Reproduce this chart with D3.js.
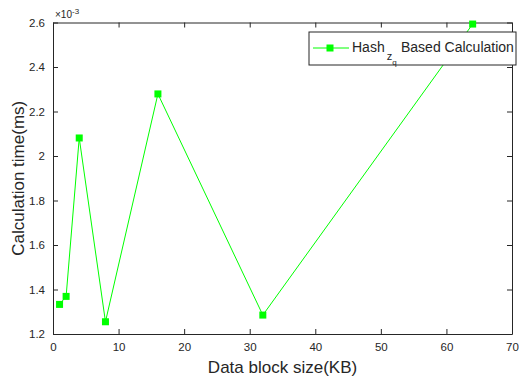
<!DOCTYPE html>
<html>
<head>
<meta charset="utf-8">
<script src="https://cdn.jsdelivr.net/npm/d3@7"></script>
<style>
  body { margin: 0; background: #fff; }
  text { font-family: "Liberation Sans", Arial, sans-serif; fill: #262626; }
</style>
</head>
<body>
<div id="chart"></div>
<script>
// data block size (KB) and calculation time (x1e-3 ms)
var blockSizes = [1, 2, 4, 8, 16, 32, 64];
var calcTimes = [1.333, 1.369, 2.081, 1.255, 2.279, 1.285, 2.593];
var xTicks = [0, 10, 20, 30, 40, 50, 60, 70];
var yTicks = [1.2, 1.4, 1.6, 1.8, 2, 2.2, 2.4, 2.6];

var W = 519, H = 378;
var margin = {top: 22.5, right: 7, bottom: 44, left: 53};
var width = W - margin.left - margin.right,
    height = H - margin.top - margin.bottom;

var svg = d3.select("#chart").append("svg")
  .attr("width", W)
  .attr("height", H);

var g = svg.append("g")
  .attr("transform", "translate(" + margin.left + "," + margin.top + ")");

var x = d3.scaleLinear().domain([0, 70]).range([0, width]);
var y = d3.scaleLinear().domain([1.2, 2.6]).range([height, 0]);

// axes - ticks point inward, box on all sides
var xAxis = g.append("g")
  .attr("transform", "translate(0," + height + ")")
  .call(d3.axisBottom(x).tickValues(xTicks).tickSizeInner(-5).tickSizeOuter(0).tickPadding(9));
var yAxis = g.append("g")
  .call(d3.axisLeft(y).tickValues(yTicks).tickFormat(d3.format("")).tickSizeInner(-5).tickSizeOuter(0).tickPadding(8));
var xTop = g.append("g")
  .call(d3.axisTop(x).tickValues(xTicks).tickSizeInner(-5).tickSizeOuter(0).tickFormat(""));
var yRight = g.append("g")
  .attr("transform", "translate(" + width + ",0)")
  .call(d3.axisRight(y).tickValues(yTicks).tickSizeInner(-5).tickSizeOuter(0).tickFormat(""));

[xAxis, yAxis, xTop, yRight].forEach(function(a) {
  a.select(".domain").attr("stroke", "#262626").attr("stroke-width", 1);
  a.selectAll(".tick line").attr("stroke", "#262626");
  a.selectAll("text").attr("font-size", "11.5px").attr("fill", "#262626");
});

// exponent label
var expo = g.append("text")
  .attr("x", 2)
  .attr("y", -5)
  .attr("font-size", "10px");
expo.append("tspan").text("\u00d710");
expo.append("tspan").attr("dy", -4).attr("font-size", "8px").text("-3");

// line + markers
var line = d3.line()
  .x(function(d, i) { return x(blockSizes[i]); })
  .y(function(d) { return y(d); });

g.append("path")
  .datum(calcTimes)
  .attr("fill", "none")
  .attr("stroke", "#00ff00")
  .attr("stroke-width", 1)
  .attr("d", line);

var ms = 7;
g.selectAll(".marker")
  .data(calcTimes)
  .enter().append("rect")
    .attr("class", "marker")
    .attr("x", function(d, i) { return x(blockSizes[i]) - ms / 2; })
    .attr("y", function(d) { return y(d) - ms / 2; })
    .attr("width", ms)
    .attr("height", ms)
    .attr("fill", "#00ff00");

// axis labels
svg.append("text")
  .attr("x", margin.left + width / 2)
  .attr("y", 373)
  .attr("text-anchor", "middle")
  .attr("font-size", "17px")
  .text("Data block size(KB)");

svg.append("text")
  .attr("transform", "translate(24," + (margin.top + height / 2) + ") rotate(-90)")
  .attr("text-anchor", "middle")
  .attr("font-size", "17px")
  .text("Calculation time(ms)");

// legend
var leg = svg.append("g").attr("transform", "translate(309,32)");
leg.append("rect")
  .attr("width", 207)
  .attr("height", 33)
  .attr("fill", "#fff")
  .attr("stroke", "#262626")
  .attr("stroke-width", 1);
leg.append("line")
  .attr("x1", 4).attr("x2", 40)
  .attr("y1", 16).attr("y2", 16)
  .attr("stroke", "#00ff00");
leg.append("rect")
  .attr("x", 21 - ms / 2).attr("y", 16 - ms / 2)
  .attr("width", ms).attr("height", ms)
  .attr("fill", "#00ff00");
var lt = leg.append("text")
  .attr("x", 43)
  .attr("y", 20)
  .attr("font-size", "14px");
lt.append("tspan").text("Hash");
lt.append("tspan").attr("dy", 8).attr("dx", 2).attr("font-size", "11px").text("z");
lt.append("tspan").attr("dy", 5).attr("font-size", "8px").text("q");
leg.append("text")
  .attr("x", 92)
  .attr("y", 20)
  .attr("font-size", "14px")
  .text("Based Calculation");
</script>
</body>
</html>
